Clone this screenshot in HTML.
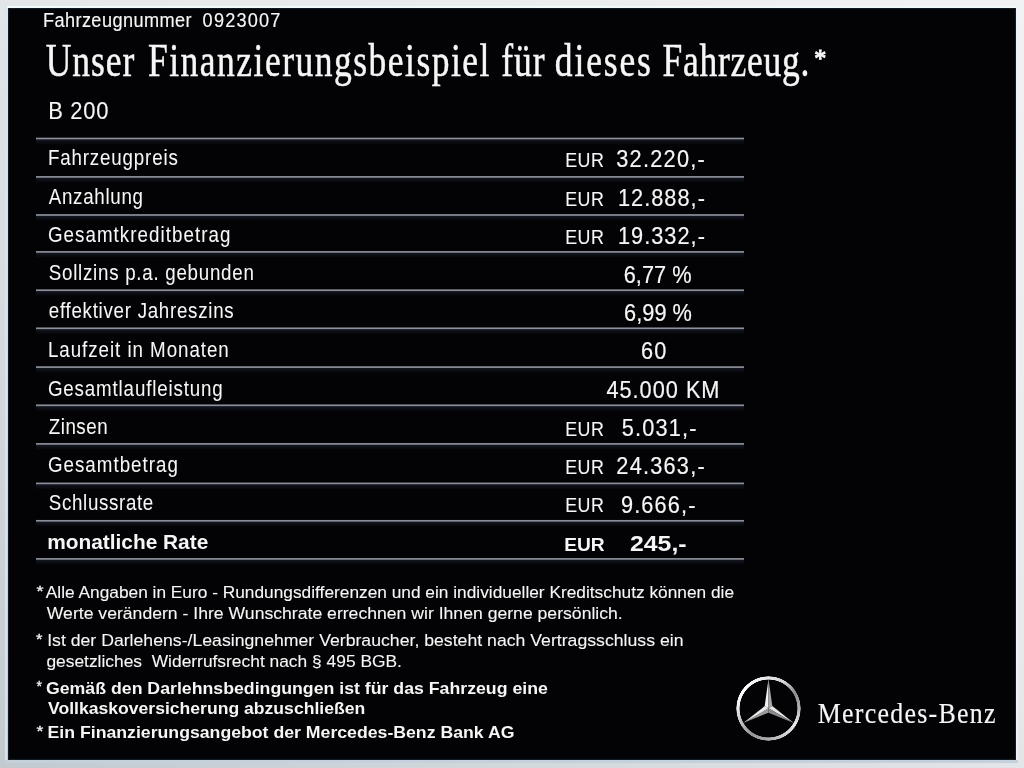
<!DOCTYPE html>
<html><head><meta charset="utf-8"><style>
html,body{margin:0;padding:0;width:1024px;height:768px;overflow:hidden;background:#e9e9eb;}
svg{display:block;position:absolute;left:0;top:0;}
</style></head><body>
<svg width="1024" height="768" viewBox="0 0 1024 768">
<defs>
<linearGradient id="rg" x1="0" y1="0" x2="1" y2="1">
<stop offset="0" stop-color="#ffffff"/><stop offset="0.4" stop-color="#e6e6e6"/><stop offset="0.65" stop-color="#a0a0a0"/><stop offset="0.85" stop-color="#e8e8e8"/><stop offset="1" stop-color="#c0c0c0"/></linearGradient>
<linearGradient id="bg" x1="1" y1="0" x2="0" y2="1"><stop offset="0" stop-color="#f2f2f4"/><stop offset="0.45" stop-color="#e6e8ea"/><stop offset="1" stop-color="#c2cad0"/></linearGradient>
<linearGradient id="sh" x1="0" y1="0" x2="0" y2="1">
<stop offset="0" stop-color="#141722"/><stop offset="0.6" stop-color="#0a0c12"/><stop offset="1" stop-color="#040507"/></linearGradient>
</defs>
<rect x="0" y="0" width="1024" height="768" fill="url(#bg)"/>
<rect x="5" y="6" width="1013" height="2" fill="#f2fafc"/>
<rect x="5" y="6" width="2" height="756" fill="#d8e4ee" opacity="0.9"/>
<rect x="1016" y="6" width="2" height="756" fill="#eef0fa"/>
<rect x="5" y="760" width="1013" height="3" fill="#c4d0dc"/>
<rect x="8" y="8" width="1008" height="752" fill="#111a24"/>
<rect x="9" y="9" width="1006" height="750" fill="#04060a"/>
<rect x="10" y="10" width="1004" height="748" fill="#030305"/>
<rect x="36" y="139.30" width="708" height="5" fill="url(#sh)"/><rect x="36" y="137.65" width="708" height="1.7" fill="#8a8f99"/><rect x="36" y="177.70" width="708" height="5" fill="url(#sh)"/><rect x="36" y="176.05" width="708" height="1.7" fill="#8a8f99"/><rect x="36" y="215.80" width="708" height="5" fill="url(#sh)"/><rect x="36" y="214.15" width="708" height="1.7" fill="#8a8f99"/><rect x="36" y="252.70" width="708" height="5" fill="url(#sh)"/><rect x="36" y="251.05" width="708" height="1.7" fill="#8a8f99"/><rect x="36" y="291.00" width="708" height="5" fill="url(#sh)"/><rect x="36" y="289.35" width="708" height="1.7" fill="#8a8f99"/><rect x="36" y="329.10" width="708" height="5" fill="url(#sh)"/><rect x="36" y="327.45" width="708" height="1.7" fill="#8a8f99"/><rect x="36" y="367.90" width="708" height="5" fill="url(#sh)"/><rect x="36" y="366.25" width="708" height="1.7" fill="#8a8f99"/><rect x="36" y="406.10" width="708" height="5" fill="url(#sh)"/><rect x="36" y="404.45" width="708" height="1.7" fill="#8a8f99"/><rect x="36" y="444.70" width="708" height="5" fill="url(#sh)"/><rect x="36" y="443.05" width="708" height="1.7" fill="#8a8f99"/><rect x="36" y="484.20" width="708" height="5" fill="url(#sh)"/><rect x="36" y="482.55" width="708" height="1.7" fill="#8a8f99"/><rect x="36" y="521.60" width="708" height="5" fill="url(#sh)"/><rect x="36" y="519.95" width="708" height="1.7" fill="#8a8f99"/><rect x="36" y="559.70" width="708" height="5" fill="url(#sh)"/><rect x="36" y="558.05" width="708" height="1.7" fill="#8a8f99"/>
<circle cx="768.5" cy="708.3" r="30.6" fill="none" stroke="#c8c8c8" stroke-width="3.6" opacity="0"/>
<polygon points="768.50,679.10 768.50,708.30 764.69,706.10" fill="#f4f4f4"/><polygon points="768.50,679.10 768.50,708.30 772.31,706.10" fill="#a8a8a8"/><polygon points="793.79,722.90 768.50,708.30 772.31,706.10" fill="#e4e4e4"/><polygon points="793.79,722.90 768.50,708.30 768.50,712.70" fill="#8a8a8a"/><polygon points="743.21,722.90 768.50,708.30 768.50,712.70" fill="#9a9a9a"/><polygon points="743.21,722.90 768.50,708.30 764.69,706.10" fill="#ececec"/>
<g style="will-change:transform">
<text transform="matrix(0.9,0,0,1,42.90,0)" x="0" y="26.80" font-family="'Liberation Sans', sans-serif" font-size="20.2" font-weight="normal" textLength="165.19" lengthAdjust="spacing" fill="#f6f6f6" stroke="#f6f6f6" stroke-width="0.15">Fahrzeugnummer</text>
<text transform="matrix(0.9,0,0,1,202.60,0)" x="0" y="27.00" font-family="'Liberation Sans', sans-serif" font-size="20.2" font-weight="normal" textLength="86.47" lengthAdjust="spacing" fill="#f6f6f6" stroke="#f6f6f6" stroke-width="0.15">0923007</text>
<text transform="matrix(0.78,0,0,1,45.80,0)" x="0" y="76.50" font-family="'Liberation Serif', serif" font-size="45.5" font-weight="normal" textLength="113.49" lengthAdjust="spacing" fill="#f6f6f6" stroke="#f6f6f6" stroke-width="0.5">Unser</text>
<text transform="matrix(0.78,0,0,1,148.02,0)" x="0" y="76.50" font-family="'Liberation Serif', serif" font-size="45.5" font-weight="normal" textLength="437.70" lengthAdjust="spacing" fill="#f6f6f6" stroke="#f6f6f6" stroke-width="0.5">Finanzierungsbeispiel</text>
<text transform="matrix(0.78,0,0,1,501.22,0)" x="0" y="76.50" font-family="'Liberation Serif', serif" font-size="45.5" font-weight="normal" textLength="55.59" lengthAdjust="spacing" fill="#f6f6f6" stroke="#f6f6f6" stroke-width="0.5">für</text>
<text transform="matrix(0.78,0,0,1,554.82,0)" x="0" y="76.50" font-family="'Liberation Serif', serif" font-size="45.5" font-weight="normal" textLength="123.17" lengthAdjust="spacing" fill="#f6f6f6" stroke="#f6f6f6" stroke-width="0.5">dieses</text>
<text transform="matrix(0.78,0,0,1,662.62,0)" x="0" y="76.50" font-family="'Liberation Serif', serif" font-size="45.5" font-weight="normal" textLength="188.12" lengthAdjust="spacing" fill="#f6f6f6" stroke="#f6f6f6" stroke-width="0.5">Fahrzeug.</text>
<text x="814.26" y="67.00" font-family="'Liberation Serif', serif" font-size="26" font-weight="normal" textLength="12.07" lengthAdjust="spacingAndGlyphs" fill="#f6f6f6" stroke="#f6f6f6" stroke-width="1.0">*</text>
<text transform="matrix(0.9,0,0,1,48.20,0)" x="0" y="119.40" font-family="'Liberation Sans', sans-serif" font-size="24.4" font-weight="normal" textLength="66.91" lengthAdjust="spacing" fill="#f6f6f6" stroke="#f6f6f6" stroke-width="0.1">B 200</text>
<text transform="matrix(0.86,0,0,1,47.94,0)" x="0" y="164.70" font-family="'Liberation Sans', sans-serif" font-size="21.8" font-weight="normal" textLength="150.97" lengthAdjust="spacing" fill="#f6f6f6" stroke="#f6f6f6" stroke-width="0.05">Fahrzeugpreis</text>
<text transform="matrix(0.86,0,0,1,48.80,0)" x="0" y="203.60" font-family="'Liberation Sans', sans-serif" font-size="21.8" font-weight="normal" textLength="109.56" lengthAdjust="spacing" fill="#f6f6f6" stroke="#f6f6f6" stroke-width="0.05">Anzahlung</text>
<text transform="matrix(0.86,0,0,1,47.94,0)" x="0" y="241.80" font-family="'Liberation Sans', sans-serif" font-size="21.8" font-weight="normal" textLength="212.12" lengthAdjust="spacing" fill="#f6f6f6" stroke="#f6f6f6" stroke-width="0.05">Gesamtkreditbetrag</text>
<text transform="matrix(0.86,0,0,1,48.80,0)" x="0" y="280.40" font-family="'Liberation Sans', sans-serif" font-size="21.8" font-weight="normal" textLength="238.42" lengthAdjust="spacing" fill="#f6f6f6" stroke="#f6f6f6" stroke-width="0.05">Sollzins p.a. gebunden</text>
<text transform="matrix(0.86,0,0,1,48.80,0)" x="0" y="318.40" font-family="'Liberation Sans', sans-serif" font-size="21.8" font-weight="normal" textLength="215.01" lengthAdjust="spacing" fill="#f6f6f6" stroke="#f6f6f6" stroke-width="0.05">effektiver Jahreszins</text>
<text transform="matrix(0.86,0,0,1,47.94,0)" x="0" y="356.80" font-family="'Liberation Sans', sans-serif" font-size="21.8" font-weight="normal" textLength="210.25" lengthAdjust="spacing" fill="#f6f6f6" stroke="#f6f6f6" stroke-width="0.05">Laufzeit in Monaten</text>
<text transform="matrix(0.86,0,0,1,47.94,0)" x="0" y="395.80" font-family="'Liberation Sans', sans-serif" font-size="21.8" font-weight="normal" textLength="203.23" lengthAdjust="spacing" fill="#f6f6f6" stroke="#f6f6f6" stroke-width="0.05">Gesamtlaufleistung</text>
<text transform="matrix(0.86,0,0,1,48.80,0)" x="0" y="433.60" font-family="'Liberation Sans', sans-serif" font-size="21.8" font-weight="normal" textLength="68.37" lengthAdjust="spacing" fill="#f6f6f6" stroke="#f6f6f6" stroke-width="0.05">Zinsen</text>
<text transform="matrix(0.86,0,0,1,47.94,0)" x="0" y="472.00" font-family="'Liberation Sans', sans-serif" font-size="21.8" font-weight="normal" textLength="151.15" lengthAdjust="spacing" fill="#f6f6f6" stroke="#f6f6f6" stroke-width="0.05">Gesamtbetrag</text>
<text transform="matrix(0.86,0,0,1,48.80,0)" x="0" y="510.40" font-family="'Liberation Sans', sans-serif" font-size="21.8" font-weight="normal" textLength="121.52" lengthAdjust="spacing" fill="#f6f6f6" stroke="#f6f6f6" stroke-width="0.05">Schlussrate</text>
<text transform="matrix(0.85,0,0,1,565.15,0)" x="0" y="166.80" font-family="'Liberation Sans', sans-serif" font-size="21" font-weight="normal" textLength="45.62" lengthAdjust="spacing" fill="#f6f6f6" stroke="#f6f6f6" stroke-width="0.1">EUR</text>
<text transform="matrix(0.88,0,0,1,616.20,0)" x="0" y="167.10" font-family="'Liberation Sans', sans-serif" font-size="24.7" font-weight="normal" textLength="100.70" lengthAdjust="spacing" fill="#f6f6f6" stroke="#f6f6f6" stroke-width="0.2">32.220,-</text>
<text transform="matrix(0.85,0,0,1,565.15,0)" x="0" y="205.70" font-family="'Liberation Sans', sans-serif" font-size="21" font-weight="normal" textLength="45.62" lengthAdjust="spacing" fill="#f6f6f6" stroke="#f6f6f6" stroke-width="0.1">EUR</text>
<text transform="matrix(0.88,0,0,1,617.92,0)" x="0" y="206.00" font-family="'Liberation Sans', sans-serif" font-size="24.7" font-weight="normal" textLength="98.82" lengthAdjust="spacing" fill="#f6f6f6" stroke="#f6f6f6" stroke-width="0.2">12.888,-</text>
<text transform="matrix(0.85,0,0,1,565.15,0)" x="0" y="243.90" font-family="'Liberation Sans', sans-serif" font-size="21" font-weight="normal" textLength="45.62" lengthAdjust="spacing" fill="#f6f6f6" stroke="#f6f6f6" stroke-width="0.1">EUR</text>
<text transform="matrix(0.88,0,0,1,617.92,0)" x="0" y="244.20" font-family="'Liberation Sans', sans-serif" font-size="24.7" font-weight="normal" textLength="98.82" lengthAdjust="spacing" fill="#f6f6f6" stroke="#f6f6f6" stroke-width="0.2">19.332,-</text>
<text transform="matrix(0.88,0,0,1,623.72,0)" x="0" y="282.80" font-family="'Liberation Sans', sans-serif" font-size="24.7" font-weight="normal" textLength="77.08" lengthAdjust="spacing" fill="#f6f6f6" stroke="#f6f6f6" stroke-width="0.2">6,77 %</text>
<text transform="matrix(0.88,0,0,1,624.12,0)" x="0" y="320.80" font-family="'Liberation Sans', sans-serif" font-size="24.7" font-weight="normal" textLength="77.08" lengthAdjust="spacing" fill="#f6f6f6" stroke="#f6f6f6" stroke-width="0.2">6,99 %</text>
<text transform="matrix(0.88,0,0,1,640.92,0)" x="0" y="359.20" font-family="'Liberation Sans', sans-serif" font-size="24.7" font-weight="normal" textLength="28.89" lengthAdjust="spacing" fill="#f6f6f6" stroke="#f6f6f6" stroke-width="0.2">60</text>
<text transform="matrix(0.88,0,0,1,606.40,0)" x="0" y="398.20" font-family="'Liberation Sans', sans-serif" font-size="24.7" font-weight="normal" textLength="128.51" lengthAdjust="spacing" fill="#f6f6f6" stroke="#f6f6f6" stroke-width="0.2">45.000 KM</text>
<text transform="matrix(0.85,0,0,1,565.15,0)" x="0" y="435.70" font-family="'Liberation Sans', sans-serif" font-size="21" font-weight="normal" textLength="45.62" lengthAdjust="spacing" fill="#f6f6f6" stroke="#f6f6f6" stroke-width="0.1">EUR</text>
<text transform="matrix(0.88,0,0,1,621.80,0)" x="0" y="436.00" font-family="'Liberation Sans', sans-serif" font-size="24.7" font-weight="normal" textLength="84.79" lengthAdjust="spacing" fill="#f6f6f6" stroke="#f6f6f6" stroke-width="0.2">5.031,-</text>
<text transform="matrix(0.85,0,0,1,565.15,0)" x="0" y="474.10" font-family="'Liberation Sans', sans-serif" font-size="21" font-weight="normal" textLength="45.62" lengthAdjust="spacing" fill="#f6f6f6" stroke="#f6f6f6" stroke-width="0.1">EUR</text>
<text transform="matrix(0.88,0,0,1,616.32,0)" x="0" y="474.40" font-family="'Liberation Sans', sans-serif" font-size="24.7" font-weight="normal" textLength="100.43" lengthAdjust="spacing" fill="#f6f6f6" stroke="#f6f6f6" stroke-width="0.2">24.363,-</text>
<text transform="matrix(0.85,0,0,1,565.15,0)" x="0" y="512.50" font-family="'Liberation Sans', sans-serif" font-size="21" font-weight="normal" textLength="45.62" lengthAdjust="spacing" fill="#f6f6f6" stroke="#f6f6f6" stroke-width="0.1">EUR</text>
<text transform="matrix(0.88,0,0,1,620.92,0)" x="0" y="512.80" font-family="'Liberation Sans', sans-serif" font-size="24.7" font-weight="normal" textLength="84.75" lengthAdjust="spacing" fill="#f6f6f6" stroke="#f6f6f6" stroke-width="0.2">9.666,-</text>
<text x="47.21" y="549.00" font-family="'Liberation Sans', sans-serif" font-size="21" font-weight="bold" textLength="161.06" lengthAdjust="spacingAndGlyphs" fill="#f6f6f6">monatliche Rate</text>
<text x="564.22" y="551.00" font-family="'Liberation Sans', sans-serif" font-size="19" font-weight="bold" textLength="40.51" lengthAdjust="spacingAndGlyphs" fill="#f6f6f6">EUR</text>
<text x="630.00" y="551.20" font-family="'Liberation Sans', sans-serif" font-size="22" font-weight="bold" textLength="56.56" lengthAdjust="spacingAndGlyphs" fill="#f6f6f6">245,-</text>
<text x="45.80" y="598.00" font-family="'Liberation Sans', sans-serif" font-size="17" font-weight="normal" textLength="688.26" lengthAdjust="spacingAndGlyphs" fill="#f6f6f6" stroke="#f6f6f6" stroke-width="0.1">Alle Angaben in Euro - Rundungsdifferenzen und ein individueller Kreditschutz können die</text>
<text x="46.80" y="619.00" font-family="'Liberation Sans', sans-serif" font-size="17" font-weight="normal" textLength="575.95" lengthAdjust="spacingAndGlyphs" fill="#f6f6f6" stroke="#f6f6f6" stroke-width="0.1">Werte verändern - Ihre Wunschrate errechnen wir Ihnen gerne persönlich.</text>
<text x="47.16" y="646.10" font-family="'Liberation Sans', sans-serif" font-size="17" font-weight="normal" textLength="636.31" lengthAdjust="spacingAndGlyphs" fill="#f6f6f6" stroke="#f6f6f6" stroke-width="0.1">Ist der Darlehens-/Leasingnehmer Verbraucher, besteht nach Vertragsschluss ein</text>
<text x="46.40" y="667.00" font-family="'Liberation Sans', sans-serif" font-size="17" font-weight="normal" textLength="355.54" lengthAdjust="spacingAndGlyphs" fill="#f6f6f6" stroke="#f6f6f6" stroke-width="0.1">gesetzliches  Widerrufsrecht nach § 495 BGB.</text>
<text x="46.00" y="693.50" font-family="'Liberation Sans', sans-serif" font-size="17" font-weight="bold" textLength="501.87" lengthAdjust="spacingAndGlyphs" fill="#f6f6f6">Gemäß den Darlehnsbedingungen ist für das Fahrzeug eine</text>
<text x="48.00" y="714.00" font-family="'Liberation Sans', sans-serif" font-size="17" font-weight="bold" textLength="317.20" lengthAdjust="spacingAndGlyphs" fill="#f6f6f6">Vollkaskoversicherung abzuschließen</text>
<text x="47.56" y="738.00" font-family="'Liberation Sans', sans-serif" font-size="17" font-weight="bold" textLength="466.87" lengthAdjust="spacingAndGlyphs" fill="#f6f6f6">Ein Finanzierungsangebot der Mercedes-Benz Bank AG</text>
<text x="36.40" y="596.10" font-family="'Liberation Sans', sans-serif" font-size="15" font-weight="normal" textLength="7.04" lengthAdjust="spacingAndGlyphs" fill="#f6f6f6" stroke="#f6f6f6" stroke-width="0.3">*</text>
<text x="36.00" y="644.10" font-family="'Liberation Sans', sans-serif" font-size="15" font-weight="normal" textLength="6.44" lengthAdjust="spacingAndGlyphs" fill="#f6f6f6" stroke="#f6f6f6" stroke-width="0.3">*</text>
<text x="36.40" y="690.90" font-family="'Liberation Sans', sans-serif" font-size="15" font-weight="normal" textLength="5.44" lengthAdjust="spacingAndGlyphs" fill="#f6f6f6" stroke="#f6f6f6" stroke-width="0.3">*</text>
<text x="36.60" y="735.70" font-family="'Liberation Sans', sans-serif" font-size="15" font-weight="normal" textLength="6.84" lengthAdjust="spacingAndGlyphs" fill="#f6f6f6" stroke="#f6f6f6" stroke-width="0.3">*</text>
<text transform="matrix(0.9,0,0,1,817.80,0)" x="0" y="722.80" font-family="'Liberation Serif', serif" font-size="28.8" font-weight="normal" textLength="197.52" lengthAdjust="spacing" fill="#f6f6f6" stroke="#f6f6f6" stroke-width="0.15">Mercedes-Benz</text>
</g>
</svg>
<div style="position:absolute;left:736.10px;top:675.90px;width:64.8px;height:64.8px;border-radius:50%;background:conic-gradient(from 0deg,#e6e6e6 0deg,#d4d4d4 30deg,#8a8a8a 60deg,#b4b4b4 90deg,#e8e8e8 120deg,#cfcfcf 150deg,#a8a8a8 185deg,#949494 215deg,#c4c4c4 245deg,#f2f2f2 275deg,#ffffff 305deg,#f4f4f4 335deg,#e6e6e6 360deg);-webkit-mask:radial-gradient(circle at center,transparent 28.6px,#000 29.2px,#000 31.9px,transparent 32.5px);mask:radial-gradient(circle at center,transparent 28.6px,#000 29.2px,#000 31.9px,transparent 32.5px);"></div>
</body></html>
